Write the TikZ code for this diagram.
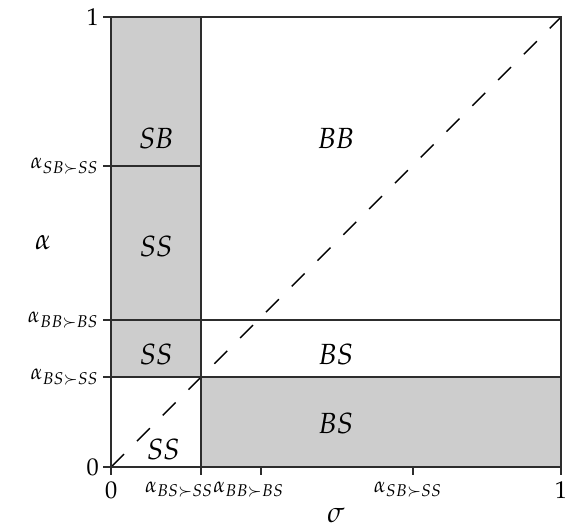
\documentclass[tikz,border=0pt]{standalone}
\usepackage{mathpazo}
\usepackage{tikz}
\usetikzlibrary{positioning}
\definecolor{RegGray}{RGB}{205,205,205}
\definecolor{LineGray}{RGB}{45,45,45}
\tikzset{
  region/.style={fill=RegGray},
  bound/.style={draw=LineGray,line width=0.8pt},
  diag/.style={draw=black,line width=0.6pt,dash pattern=on 7.5pt off 7.5pt},
  reglab/.style={font=\large,inner sep=1pt},
}
\tikzset{ylab/.style={anchor=east,inner sep=1.5pt,font=\small}, xlab/.style={anchor=north,inner sep=2.5pt,font=\small}}

\begin{document}
\begin{tikzpicture}[x=6.5cm,y=6.5cm]
\useasboundingbox (-0.247,-0.136) rectangle (1.009,1.038);
% shaded regions
\fill[region] (0,0.2) rectangle (0.2,1);
\fill[region] (0.2,0) rectangle (1,0.2);
\draw[diag] (0,0)--(1,1);
% boundaries
\draw[bound] (0,0) rectangle (1,1);
\draw[bound] (0.2,0)--(0.2,1);
\draw[bound] (0,0.2)--(1,0.2);
\draw[bound] (0,0.327)--(1,0.327);
\draw[bound] (0,0.669)--(0.2,0.669);
% y ticks
\foreach \yv/\nm in {0/y0,0.2/ya,0.327/yb,0.669/yc,1/y1}{
  \coordinate (\nm) at (-0.018,\yv);
  \draw[bound] (0,\yv)--(\nm);
}
\node[ylab,font=\normalsize] at (y0) {$0$};
\node[ylab] at (ya) {$\alpha_{BS\succ SS}$};
\node[ylab] at (yb) {$\alpha_{BB\succ BS}$};
\node[ylab] at (yc) {$\alpha_{SB\succ SS}$};
\node[ylab,font=\normalsize] at (y1) {$1$};
% x ticks
\foreach \xv/\nm in {0/x0,0.2/xa,0.333/xb,0.671/xc,1/x1}{
  \coordinate (\nm) at (\xv,-0.018);
  \draw[bound] (\xv,0)--(\nm);
}
\node[xlab,font=\normalsize] at (x0) {$0$};
\node[xlab,xshift=-9pt] at (xa) {$\alpha_{BS\succ SS}$};
\node[xlab,xshift=-5pt] at (xb) {$\alpha_{BB\succ BS}$};
\node[xlab,xshift=-2pt] at (xc) {$\alpha_{SB\succ SS}$};
\node[xlab,font=\normalsize] at (x1) {$1$};
% axis names
\node[font=\large] (alpha) at (-0.151,0.498) {$\alpha$};
\node[font=\large] (sigma) at (0.5,-0.107) {$\sigma$};
% region labels
\node[reglab] (sb) at (0.1,0.73) {$\mathit{SB}$};
\node[reglab] (ss1) at (0.1,0.49) {$\mathit{SS}$};
\node[reglab] (ss2) at (0.1,0.25) {$\mathit{SS}$};
\node[reglab] (ss3) at (0.116,0.038) {$\mathit{SS}$};
\node[reglab] (bb) at (0.5,0.73) {$\mathit{BB}$};
\node[reglab] (bs1) at (0.5,0.25) {$\mathit{BS}$};
\node[reglab] (bs2) at (0.5,0.096) {$\mathit{BS}$};
\end{tikzpicture}
\end{document}
